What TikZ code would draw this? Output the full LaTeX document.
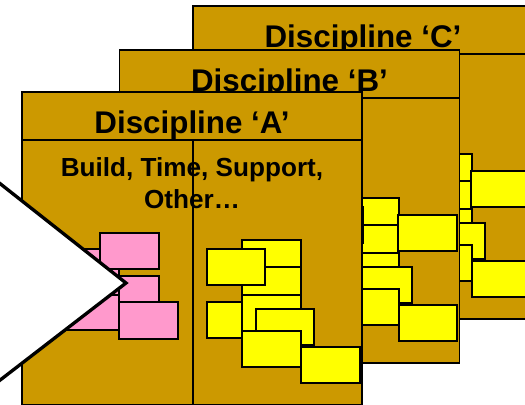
\documentclass[tikz,border=0pt]{standalone}
\usepackage{fontspec}
\setmainfont{Liberation Sans}
\usepackage{tikz}
\definecolor{panelgold}{HTML}{CC9900}
\definecolor{notepink}{HTML}{FF99CC}
\definecolor{noteyellow}{HTML}{FFFF00}
\tikzset{
  panel/.style={draw=black, line width=0.9pt, fill=panelgold},
  card/.style={draw=black, line width=1.5pt, fill=noteyellow},
  pinkcard/.style={card, fill=notepink},
  titletext/.style={font=\fontsize{23.5}{28}\selectfont\bfseries, inner sep=0pt, anchor=base}
}

\begin{document}
\begin{tikzpicture}[x=0.75pt, y=-0.75pt]
\useasboundingbox (0,0) rectangle (525,404);
\clip (0,0) rectangle (525,404);

% Three discipline panels, back to front
\foreach \px/\py/\lbl/\extra in {193/6/C/1, 119.5/50/B/1, 22/92/A/0} {
  \begin{scope}[shift={(\px,\py)}]
    \draw[panel] (0,0) rectangle (340,313);
    \draw[line width=0.9pt] (0,48) -- (340,48);
    \node[titletext] (title\lbl) at (170,41) {Discipline ‘\lbl’};
    \ifnum\extra=0
      \node[font=\fontsize{19.6}{23.6}\selectfont\bfseries, align=center, anchor=north, inner sep=0pt] (kinds) at (170,65.5) {Build, Time, Support,\\Other…};
    \fi
    \draw[line width=0.9pt] (171,48) -- (171,313);
    % yellow cards
    \foreach \cx/\cy in {220.3/148, 220.3/174.7, 184.7/157.3, 184.7/210.3, 220.3/203, 233.7/217, 220.3/238.7, 279/254.7}
      \draw[card] (\cx,\cy) rectangle ++(58.7,36);
    \ifnum\extra=1
      \draw[card] (278.3,165.3) rectangle ++(58.7,36);
    \fi
  \end{scope}
}

% Pink cards
\foreach \cx/\cy/\w/\h in {100/276/59.3/36, 60/249.3/59/46, 100/232.7/59.3/36, 60/295/59/35, 119.3/301.7/59/37.3}
  \draw[pinkcard] (\cx,\cy) rectangle ++(\w,\h);

% Big white arrow
\draw[line width=2.5pt, fill=white, line join=miter] (-40,152) -- (126,283) -- (-40,411) -- cycle;
\end{tikzpicture}
\end{document}
